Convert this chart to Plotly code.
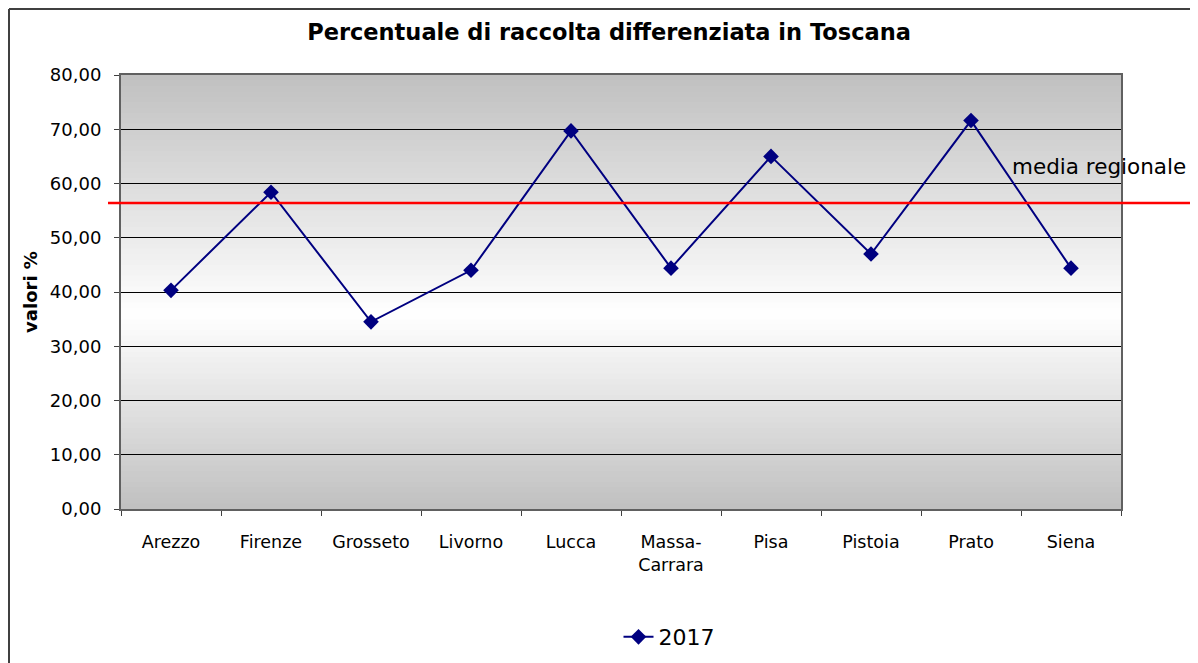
import plotly.graph_objects as go

categories = ["Arezzo", "Firenze", "Grosseto", "Livorno", "Lucca",
              "Massa-<br>Carrara", "Pisa", "Pistoia", "Prato", "Siena"]
values_2017 = [40.3, 58.4, 34.5, 44.0, 69.7, 44.4, 65.0, 47.0, 71.6, 44.4]
media_regionale = 56.4
series_name = "2017"
title_text = "Percentuale di raccolta differenziata in Toscana"
y_title = "valori %"
media_label = "media regionale"
y_ticks = [0, 10, 20, 30, 40, 50, 60, 70, 80]

FONT = "DejaVu Sans, Liberation Sans, Arial, sans-serif"
fig = go.Figure()

fig.add_trace(go.Scatter(
    x=categories, y=values_2017, name=series_name, mode="lines+markers",
    line=dict(color="#000080", width=2),
    marker=dict(symbol="diamond", size=12, color="#000080"),
))

shapes = []
# gradient plot background (gray-white-gray), overlapping bands to avoid seams
n = 80
ymax = 80.0
center = 36.0
for i in range(n):
    y0 = ymax * i / n
    y1 = ymax * (i + 1) / n
    ym = (y0 + y1) / 2
    if ym >= center:
        t = (ym - center) / (ymax - center)
    else:
        t = (center - ym) / center
    c = int(round(255 - (255 - 192) * t))
    shapes.append(dict(type="rect", xref="paper", yref="y", x0=0, x1=1,
                       y0=y0, y1=min(y1 + 0.6, ymax),
                       fillcolor=f"rgb({c},{c},{c})", line=dict(width=0), layer="below"))

# media regionale line
shapes.append(dict(type="line", xref="paper", yref="paper",
                   x0=-0.013, x1=1.1, y0=media_regionale / ymax, y1=media_regionale / ymax,
                   line=dict(color="#ff0000", width=2.5), layer="above"))
# outer chart border (top and left)
shapes.append(dict(type="line", xref="paper", yref="paper",
                   x0=-0.112, x1=1.1, y0=(509 - 9) / 434, y1=(509 - 9) / 434,
                   line=dict(color="#404040", width=2)))
shapes.append(dict(type="line", xref="paper", yref="paper",
                   x0=-0.112, x1=-0.112, y0=(509 - 9) / 434, y1=-0.4,
                   line=dict(color="#404040", width=2)))

fig.update_layout(
    template="none",
    width=1190, height=655,
    margin=dict(l=113, r=77, t=67, b=154, autoexpand=False),
    paper_bgcolor="white", plot_bgcolor="white",
    separators=",.",
    font=dict(family=FONT, color="black", size=18),
    title=dict(text=title_text, x=(609 - 8) / 1190, xref="container", xanchor="center",
               y=1 - (32 - 8) / 655, yanchor="middle",
               font=dict(family=FONT, size=22.5, color="black", weight="bold")),
    shapes=shapes,
    showlegend=True,
    legend=dict(orientation="h", x=0.548, xanchor="center", y=-0.295, yanchor="middle",
                font=dict(size=22), bgcolor="rgba(0,0,0,0)"),
    annotations=[dict(text=media_label, xref="paper", yref="y", x=0.889, y=media_regionale,
                      xanchor="left", yanchor="bottom", yshift=22, showarrow=False,
                      font=dict(family=FONT, size=21.5, color="black"))],
)

fig.update_xaxes(
    type="category", range=[-0.5, 9.5], tickson="boundaries", automargin=False,
    ticks="outside", ticklen=5, tickcolor="#404040", tickwidth=1,
    showline=True, linecolor="#606060", linewidth=2, mirror=True,
    showgrid=False, zeroline=False, tickfont=dict(size=17.5), ticklabelstandoff=16,
)
fig.update_yaxes(
    range=[0, 80], tickvals=y_ticks, tickformat=".2f", automargin=False,
    ticks="outside", ticklen=5, tickcolor="#404040", tickwidth=1,
    showline=True, linecolor="#606060", linewidth=2, mirror=True,
    showgrid=True, gridcolor="#000000", gridwidth=1, zeroline=False,
    tickfont=dict(size=18), ticklabelstandoff=9,
    title=dict(text=y_title, standoff=8, font=dict(size=18, weight="bold")),
)

fig.write_html("out.html")
